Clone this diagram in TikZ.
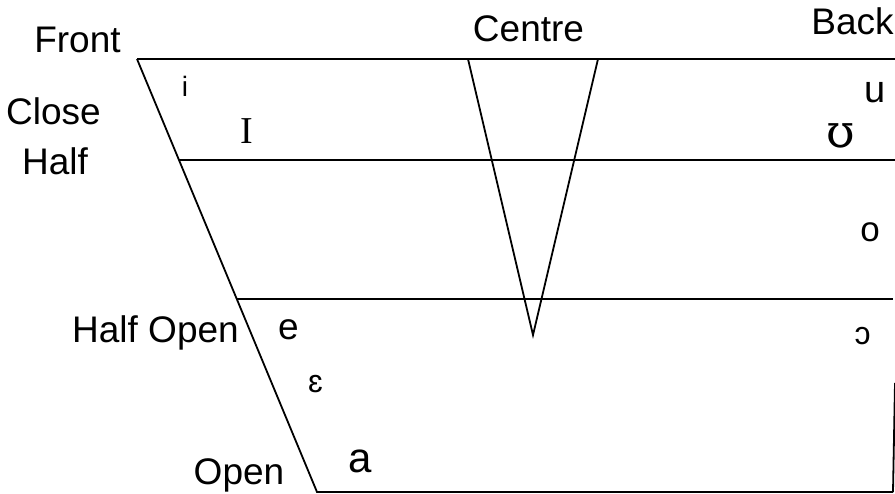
\documentclass[tikz,border=0pt]{standalone}
\usepackage{fontspec}
\setmainfont{Liberation Sans}
\newfontfamily\ipaserif{Liberation Serif}
\newfontfamily\ipadv{DejaVu Serif}
\begin{document}
\begin{tikzpicture}[x=1pt,y=-1pt,line width=1.8pt,
  lbl/.style={anchor=base,inner sep=0pt,font=\fontsize{37}{40}\selectfont},
  vow/.style={anchor=base,inner sep=0pt}]
\useasboundingbox (0,0) rectangle (895,494);
% frame corners
\coordinate (TL) at (137,59);
\coordinate (TR) at (895,59);
\coordinate (BL) at (317,492);
\coordinate (BR) at (893,492);
\coordinate (RT) at (895,383);
\coordinate (H1L) at (179,160);
\coordinate (H1R) at (895,160);
\coordinate (H2L) at (237,299);
\coordinate (H2R) at (893,299);
\coordinate (CA) at (468,59);
\coordinate (CB) at (598,59);
\coordinate (CX) at (533,335);
\draw (TL) -- (TR);
\draw (TL) -- (BL) -- (BR);
\draw (RT) -- (BR);
\draw (H1L) -- (H1R);
\draw (H2L) -- (H2R);
\draw (CA) -- (CX) -- (CB);
% labels
\node[lbl] (front) at (77.5,53) {Front};
\node[lbl] (centre) at (528.5,42) {Centre};
\node[lbl] (back) at (852.5,35) {Back};
\node[lbl] (close) at (53.5,125) {Close};
\node[lbl] (half) at (55,175) {Half};
\node[lbl] (halfopen) at (155.5,343) {Half Open};
\node[lbl] (open) at (239,485) {Open};
% vowels
\node[vow,font=\fontsize{28}{30}\selectfont] (vi) at (185,97) {i};
\node[vow,font=\ipaserif\fontsize{38}{40}\selectfont] (vI) at (247,144) {I};
\node[vow,font=\fontsize{38}{40}\selectfont] (vu) at (875,103) {u};
\node[vow,font=\ipadv\fontsize{46}{48}\selectfont] (vU) at (840.5,148) {ʊ};
\node[vow,font=\fontsize{35}{38}\selectfont] (vo) at (870,242) {o};
\node[vow,font=\fontsize{37}{40}\selectfont] (ve) at (288.5,340) {e};
\node[vow,font=\fontsize{32}{34}\selectfont] (veps) at (315.5,393) {ɛ};
\node[vow,font=\fontsize{42}{44}\selectfont] (va) at (360,472) {a};
\node[vow,font=\fontsize{32}{34}\selectfont] (vc) at (862.5,345) {ɔ};
\end{tikzpicture}
\end{document}
